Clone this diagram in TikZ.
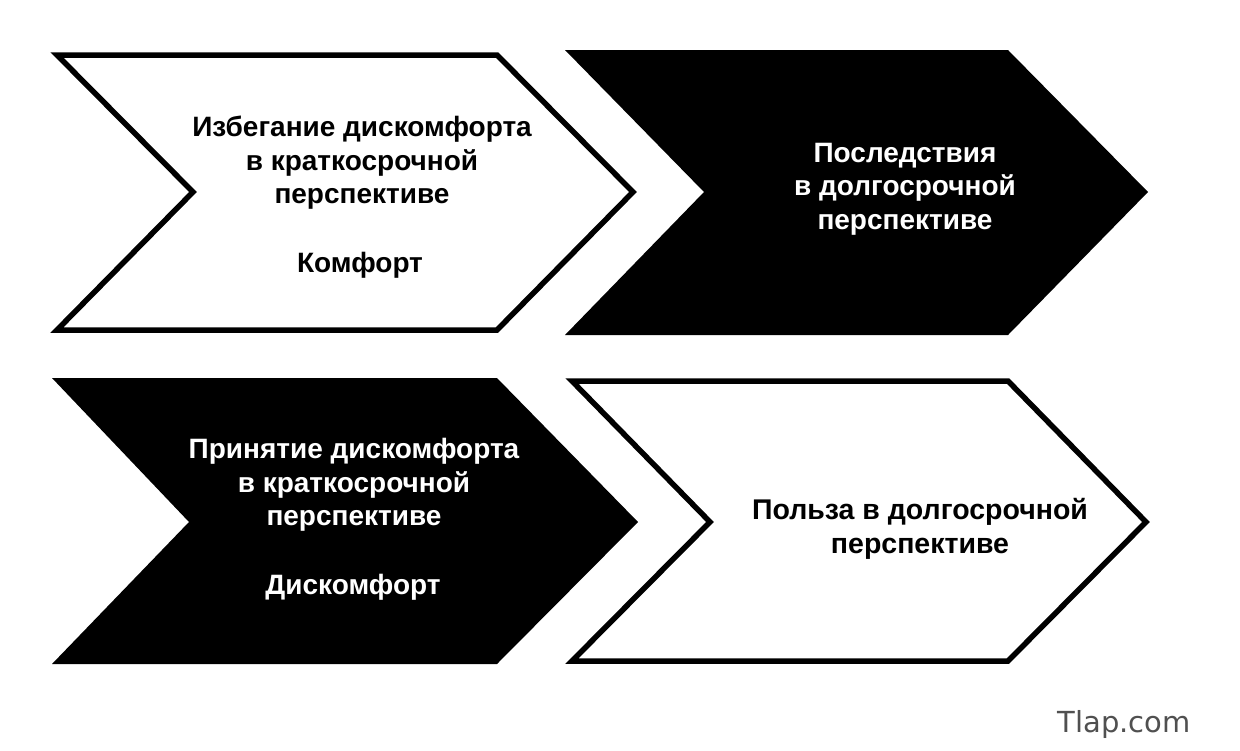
\documentclass[tikz,border=0pt]{standalone}
\usepackage{fontspec}
\setmainfont{Liberation Sans}
\newfontfamily\arialf{Liberation Sans}
\newfontfamily\markf{DejaVu Sans}
\definecolor{markgray}{HTML}{505050}
\tikzset{
  whitechev/.style={draw=black, line width=5.5pt, fill=white, line join=miter, miter limit=10},
  blackchev/.style={fill=black, draw=none},
  txt/.style={font=\arialf\bfseries\fontsize{28}{33.5}\selectfont, align=center, inner sep=0pt},
  txtw/.style={txt, text=white},
  txta/.style={font=\arialf\bfseries\fontsize{28.5}{34.5}\selectfont, align=center, inner sep=0pt},
}
\begin{document}
\begin{tikzpicture}[x=1pt,y=-1pt]
\useasboundingbox (0,0) rectangle (1240,750);
% chevron 1 (white)
\draw[whitechev] (57,55) -- (193,192) -- (57,330) -- (497,330) -- (633,192) -- (497,55) -- cycle;
% chevron 2 (black)
\fill[blackchev] (565,50) -- (704,192) -- (565,335) -- (1008,335) -- (1148,192) -- (1008,50) -- cycle;
% chevron 3 (black)
\fill[blackchev] (52,378) -- (189,522) -- (52,664) -- (497,664) -- (638,522) -- (497,378) -- cycle;
% chevron 4 (white)
\draw[whitechev] (572,381) -- (710,522) -- (572,661) -- (1008,661) -- (1146,522) -- (1008,381) -- cycle;

\node[txt] (t1) at (362,163) {Избегание дискомфорта\\в краткосрочной\\перспективе};
\node[txt, anchor=base] (t1b) at (360,272) {Комфорт};
\node[txtw] (t2) at (905,189) {Последствия\\в долгосрочной\\перспективе};
\node[txtw] (t3) at (354,485) {Принятие дискомфорта\\в краткосрочной\\перспективе};
\node[txtw, anchor=base] (t3b) at (353,594) {Дискомфорт};
\node[txta] (t4) at (920,529) {Польза в долгосрочной\\перспективе};
\node[font=\markf\fontsize{29}{30}\selectfont, text=markgray, anchor=base, inner sep=0pt] (mark) at (1124,732) {Tlap.com};
\end{tikzpicture}
\end{document}
